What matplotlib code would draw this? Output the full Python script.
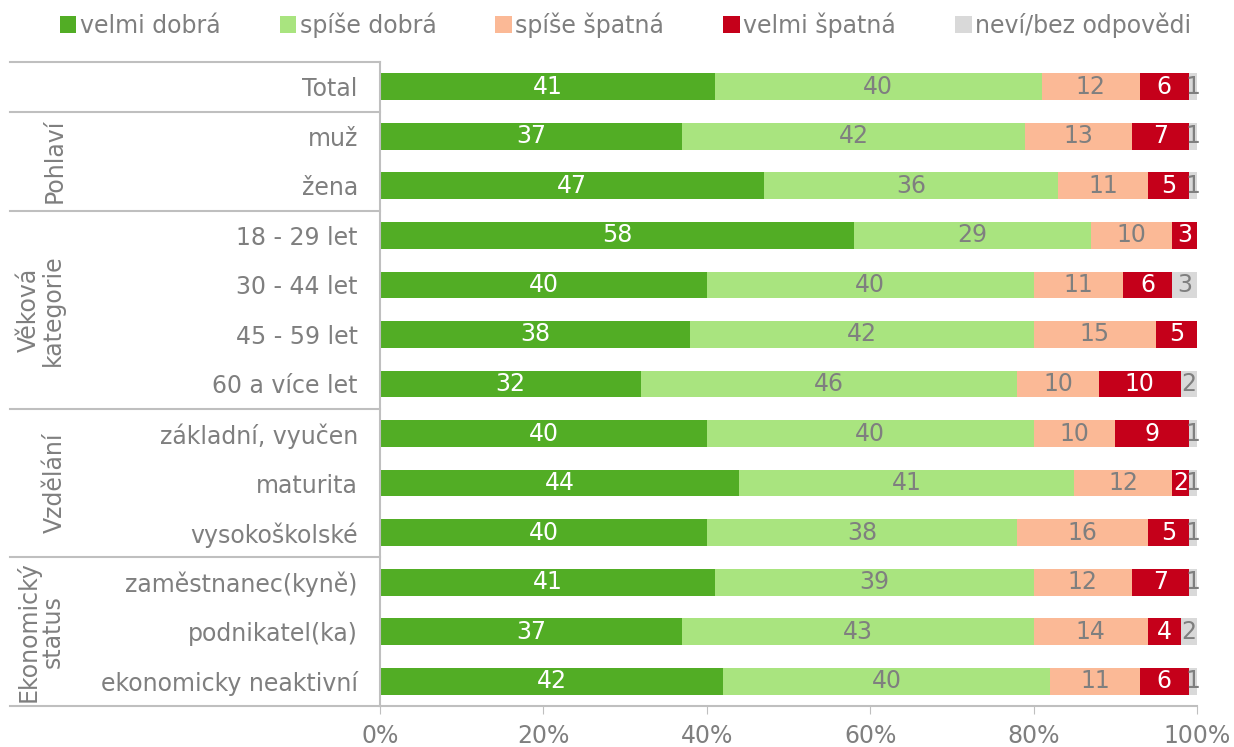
import matplotlib.pyplot as plt
import matplotlib.transforms as mtransforms
import numpy as np

# row labels (top to bottom)
categories = ['Total', 'muž', 'žena', '18 - 29 let', '30 - 44 let', '45 - 59 let',
              '60 a více let', 'základní, vyučen', 'maturita', 'vysokoškolské',
              'zaměstnanec(kyně)', 'podnikatel(ka)', 'ekonomicky neaktivní']

series_names = ['velmi dobrá', 'spíše dobrá', 'spíše špatná', 'velmi špatná', 'neví/bez odpovědi']

velmi_dobra = [41, 37, 47, 58, 40, 38, 32, 40, 44, 40, 41, 37, 42]
spise_dobra = [40, 42, 36, 29, 40, 42, 46, 40, 41, 38, 39, 43, 40]
spise_spatna = [12, 13, 11, 10, 11, 15, 10, 10, 12, 16, 12, 14, 11]
velmi_spatna = [6, 7, 5, 3, 6, 5, 10, 9, 2, 5, 7, 4, 6]
nevi = [1, 1, 1, 0, 3, 0, 2, 1, 1, 1, 1, 2, 1]

# groups: (label, first row index, last row index)
groups = [('Pohlaví', 1, 2), ('Věková\nkategorie', 3, 6), ('Vzdělání', 7, 9),
          ('Ekonomický\nstatus', 10, 12)]
group_label_x = [-0.398, -0.415, -0.398, -0.416]

colors = ['#52AD25', '#A9E47F', '#FBB996', '#C5001A', '#D9D9D9']
text_colors = ['white', '#7F7F7F', '#7F7F7F', 'white', '#7F7F7F']
grey = '#7F7F7F'
line_grey = '#BFBFBF'
fs = 17

fig = plt.figure(figsize=(12.34, 7.47), dpi=100)
ax = fig.add_axes([380 / 1234, 1 - 706 / 747, 817 / 1234, 644 / 747])

y = np.arange(len(categories))
data = [velmi_dobra, spise_dobra, spise_spatna, velmi_spatna, nevi]
left = np.zeros(len(categories))
for vals, name, col, tcol in zip(data, series_names, colors, text_colors):
    vals = np.array(vals, dtype=float)
    bars = ax.barh(y, vals, left=left, height=0.54, color=col, label=name)
    for b, v, l in zip(bars, vals, left):
        if v > 0:
            ax.text(l + v / 2, b.get_y() + b.get_height() / 2, f'{int(v)}',
                    ha='center', va='center', color=tcol, fontsize=fs)
    left += vals

ax.set_xlim(0, 100)
ax.set_ylim(len(categories) - 0.5, -0.5)
ax.set_xticks(np.arange(0, 101, 20))
ax.set_xticklabels([f'{t}%' for t in range(0, 101, 20)])
ax.set_yticks(y)
ax.set_yticklabels(categories)
ax.tick_params(axis='y', length=0, pad=16, labelsize=fs, labelcolor=grey)
ax.tick_params(axis='x', length=6, color=line_grey, labelsize=fs, labelcolor=grey, pad=7)

for s in ['top', 'right']:
    ax.spines[s].set_visible(False)
for s in ['left', 'bottom']:
    ax.spines[s].set_color(line_grey)
    ax.spines[s].set_linewidth(1.5)

# group separator lines to the left of the axis
trans = mtransforms.blended_transform_factory(ax.transAxes, ax.transData)
x0 = (10 - 380) / 817
boundaries = [-0.5, 0.5, 2.5, 6.5, 9.5, 12.5]
for yb in boundaries:
    ax.plot([x0, 0], [yb, yb], transform=trans, color=line_grey, lw=1.5, clip_on=False)

for (label, a, b), gx in zip(groups, group_label_x):
    ax.text(gx, (a + b) / 2, label, transform=trans, rotation=90, ha='center',
            va='center', color=grey, fontsize=fs, linespacing=1.0)

handles, labels = ax.get_legend_handles_labels()
fig.legend(handles, labels, loc='upper center', bbox_to_anchor=(0.507, 1.012), ncol=5,
           frameon=False, fontsize=fs, labelcolor=grey, handlelength=0.7,
           handleheight=0.7, handletextpad=0.15, columnspacing=2.5)

fig.savefig('out.png', dpi=100)
